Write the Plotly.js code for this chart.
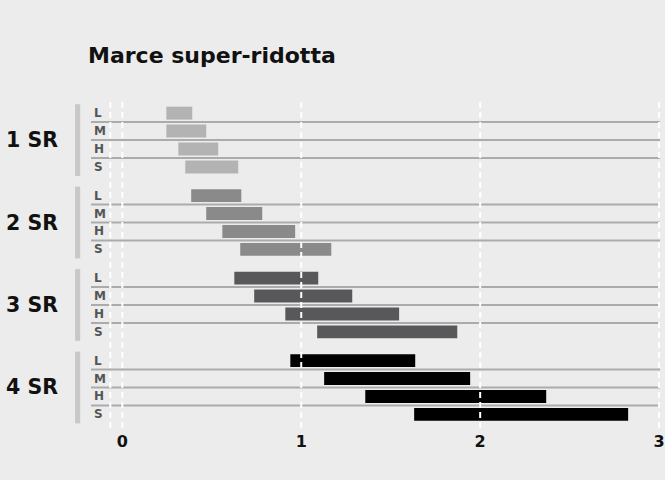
<!DOCTYPE html>
<html><head><meta charset="utf-8">
<script src="https://cdn.plot.ly/plotly-3.0.1.min.js"></script>
<style>body{margin:0;background:#ebeceb}</style>
</head><body><div id="chart" style="width:665px;height:480px"></div>
<script>
const groups = ["1 SR","2 SR","3 SR","4 SR"];
const rows = ["L","M","H","S"];
const starts = [
  [0.246,0.246,0.313,0.352],
  [0.385,0.469,0.559,0.659],
  [0.626,0.737,0.911,1.089],
  [0.939,1.128,1.358,1.631]
];
const ends = [
  [0.391,0.469,0.536,0.648],
  [0.665,0.782,0.966,1.168],
  [1.095,1.285,1.547,1.872],
  [1.637,1.944,2.369,2.827]
];
const colors = ["#b3b3b4","#8a8a8b","#58585a","#000000"];
const xTicks = [0,1,2,3];
const title = "Marce super-ridotta";

const GAP = 4.6;
const yPos = (g,r)=> g*GAP + r;
const font = "DejaVu Sans, sans-serif";

const traces = groups.map((gname,g)=>({
  type:"bar", orientation:"h",
  y: rows.map((r,i)=>yPos(g,i)),
  base: starts[g],
  x: ends[g].map((e,i)=>e-starts[g][i]),
  marker:{color:colors[g]},
  width:0.72,
  hoverinfo:"skip",
  showlegend:false
}));

const shapes = [];
const annotations = [];
groups.forEach((gname,g)=>{
  for(let i=0;i<3;i++){
    shapes.push({type:"line",xref:"paper",yref:"y",x0:0,x1:1,
      y0:yPos(g,i)+0.5,y1:yPos(g,i)+0.5,line:{color:"#ababab",width:2},layer:"below"});
  }
  shapes.push({type:"rect",xref:"paper",yref:"y",x0:-0.028,x1:-0.019,
    y0:yPos(g,0)-0.5,y1:yPos(g,3)+0.5,fillcolor:"#c8c8c8",line:{width:0}});
  annotations.push({xref:"paper",yref:"y",x:-0.104,y:yPos(g,1.5),text:"<b>"+gname+"</b>",
    showarrow:false,xanchor:"center",yanchor:"middle",
    font:{family:font,size:20.5,color:"#111"}});
  rows.forEach((r,i)=>{
    annotations.push({xref:"paper",yref:"y",x:0.001,y:yPos(g,i),text:"<b>"+r+"</b>",
      showarrow:false,xanchor:"left",yanchor:"middle",
      font:{family:font,size:12,color:"#555"}});
  });
});
// dashed white gridlines drawn above the bars
[-0.067].concat(xTicks).forEach(v=>{
  shapes.push({type:"line",xref:"x",yref:"paper",x0:v,x1:v,y0:0,y1:1,
    line:{color:"#ffffff",width:2,dash:"6px,4px"},layer:"above"});
});

const layout = {
  width:665,height:480,
  paper_bgcolor:"#ebeceb",plot_bgcolor:"#ececec",
  margin:{l:91,r:5,t:100,b:52},
  title:{text:"<b>"+title+"</b>",x:0,xref:"paper",xanchor:"left",
    y:0.885,yanchor:"middle",yref:"container",font:{family:font,size:22,color:"#111"},pad:{l:-3}},
  barmode:"overlay",
  xaxis:{range:[-0.175,3.005],tickvals:xTicks,ticktext:xTicks.map(v=>"<b>"+v+"</b>"),
    showgrid:false,zeroline:false,showline:false,ticks:"",
    tickfont:{family:font,size:16,color:"#111"},ticklabelstandoff:2},
  yaxis:{range:[yPos(3,3)+0.76,-0.733],showgrid:false,zeroline:false,
    showticklabels:false,ticks:"",showline:false},
  shapes:shapes,annotations:annotations
};
Plotly.newPlot("chart",traces,layout,{displayModeBar:false,staticPlot:true});
</script></body></html>
